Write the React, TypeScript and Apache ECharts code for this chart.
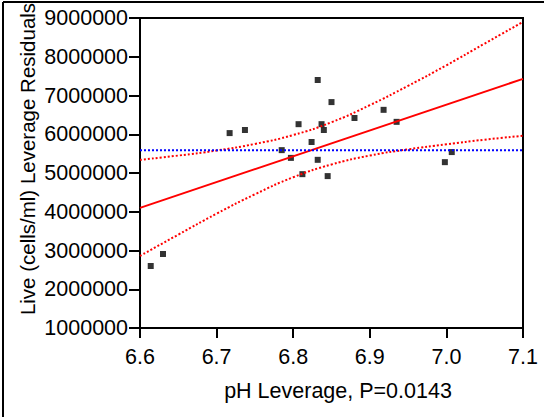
import React, { useEffect, useRef } from "react";
import * as echarts from "echarts";

const phValues = [6.614, 6.63, 6.717, 6.737, 6.785, 6.797, 6.812, 6.807, 6.824, 6.832, 6.837, 6.84, 6.832, 6.85, 6.845, 6.88, 6.918, 6.935, 6.998, 7.007];
const residuals = [2600000, 2910000, 6030000, 6110000, 5590000, 5390000, 4970000, 6260000, 5800000, 7400000, 6260000, 6110000, 5340000, 6830000, 4920000, 6420000, 6630000, 6320000, 5280000, 5540000];

const fitX = [6.6, 7.1];
const fitY = [4100000, 7430000];
const meanY = 5590000;

const bandX = [6.6, 6.65, 6.7, 6.75, 6.8, 6.85, 6.9, 6.95, 7.0, 7.05, 7.1];
const bandUpper = [5340000, 5450000, 5580000, 5750000, 5980000, 6310000, 6750000, 7250000, 7780000, 8340000, 8900000];
const bandLower = [2860000, 3410000, 3950000, 4450000, 4890000, 5220000, 5450000, 5610000, 5740000, 5860000, 5960000];

const xTicks = { min: 6.6, max: 7.1, interval: 0.1 };
const yTicks = { min: 1000000, max: 9000000, interval: 1000000 };

const xTitle = "pH Leverage, P=0.0143";
const yTitle = "Live (cells/ml) Leverage Residuals";

const FONT = "Liberation Sans, Arial, Helvetica, sans-serif";

export default function App() {
  const ref = useRef<HTMLDivElement>(null);
  useEffect(() => {
    if (!ref.current) return;
    const chart = echarts.init(ref.current, null, { renderer: "svg" });
    const dotted = (color: string) => ({ color, width: 2, type: [2, 2] as number[] });
    chart.setOption({
      animation: false,
      backgroundColor: "#ffffff",
      grid: {
        left: 140,
        right: 21,
        top: 18,
        bottom: 89,
        show: true,
        borderColor: "#000",
        borderWidth: 2,
        backgroundColor: "transparent",
      },
      xAxis: {
        type: "value",
        min: xTicks.min,
        max: xTicks.max,
        interval: xTicks.interval,
        axisLine: { show: true, onZero: false, lineStyle: { color: "#000", width: 2 } },
        axisTick: { show: true, length: 10, lineStyle: { color: "#000", width: 2 } },
        axisLabel: {
          color: "#000",
          fontSize: 21.5,
          fontFamily: FONT,
          margin: 18,
          formatter: (v: number) => v.toFixed(1),
        },
        splitLine: { show: false },
      },
      yAxis: {
        type: "value",
        min: yTicks.min,
        max: yTicks.max,
        interval: yTicks.interval,
        axisLine: { show: true, onZero: false, lineStyle: { color: "#000", width: 2 } },
        axisTick: { show: true, length: 11, lineStyle: { color: "#000", width: 2 } },
        axisLabel: {
          color: "#000",
          fontSize: 21.5,
          fontFamily: FONT,
          margin: 12,
          formatter: (v: number) => String(Math.round(v)),
        },
        splitLine: { show: false },
      },
      graphic: [
        { type: "line", shape: { x1: 3, y1: 2, x2: 544, y2: 2 }, style: { stroke: "#000", lineWidth: 2 } },
        { type: "line", shape: { x1: 3, y1: 2, x2: 3, y2: 417 }, style: { stroke: "#000", lineWidth: 2 } },
        {
          type: "text",
          x: 338,
          y: 391,
          style: {
            text: xTitle,
            fontSize: 21.5,
            fontFamily: FONT,
            fill: "#000",
            textAlign: "center",
            textVerticalAlign: "middle",
          },
        },
        {
          type: "text",
          x: 27,
          y: 159,
          rotation: Math.PI / 2,
          style: {
            text: yTitle,
            fontSize: 20.5,
            fontFamily: FONT,
            fill: "#000",
            textAlign: "center",
            textVerticalAlign: "middle",
          },
        },
      ],
      series: [
        {
          type: "line",
          data: bandX.map((x, i) => [x, bandUpper[i]]),
          smooth: true,
          showSymbol: false,
          lineStyle: dotted("#ff0000"),
        },
        {
          type: "line",
          data: bandX.map((x, i) => [x, bandLower[i]]),
          smooth: true,
          showSymbol: false,
          lineStyle: dotted("#ff0000"),
        },
        {
          type: "line",
          data: fitX.map((x, i) => [x, fitY[i]]),
          showSymbol: false,
          lineStyle: { color: "#ff0000", width: 2 },
        },
        {
          type: "line",
          data: fitX.map((x) => [x, meanY]),
          showSymbol: false,
          lineStyle: dotted("#0000ff"),
        },
        {
          type: "scatter",
          data: phValues.map((x, i) => [x, residuals[i]]),
          symbol: "rect",
          symbolSize: 6,
          itemStyle: { color: "#000" },
        },
      ],
    });
    return () => chart.dispose();
  }, []);
  return (
    <div
      ref={ref}
      style={{ position: "fixed", left: 0, top: 0, width: 544, height: 417, background: "#fff" }}
    />
  );
}
